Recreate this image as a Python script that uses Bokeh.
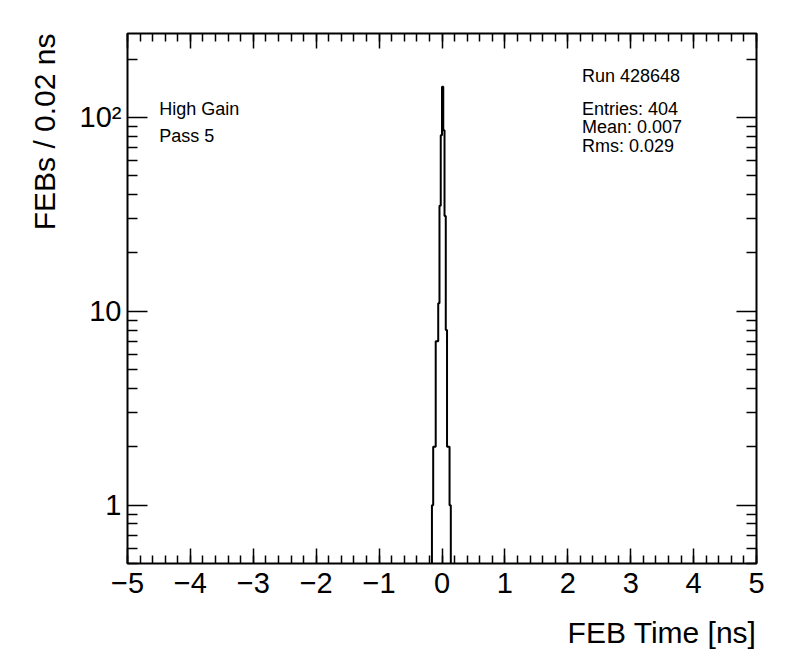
import numpy as np
from bokeh.plotting import figure
from bokeh.models import (Range1d, LinearAxis, LogAxis, FixedTicker, Label,
                          Title, CustomLabelingPolicy)
from bokeh.embed import file_html
from bokeh.resources import INLINE

# ---- data ----
bin_width = 0.02
bin_low = [-0.16, -0.14, -0.12, -0.10, -0.08, -0.06, -0.04, -0.02,
           0.00, 0.02, 0.04, 0.06, 0.08, 0.10, 0.12]
counts = [1, 2, 2, 7, 7, 11, 35, 81, 144, 86, 31, 8, 2, 2, 1]

x_ticks = [-5, -4, -3, -2, -1, 0, 1, 2, 3, 4, 5]
x_tick_labels = ["\u22125", "\u22124", "\u22123", "\u22122", "\u22121",
                 "0", "1", "2", "3", "4", "5"]
y_ticks = [1, 10, 100]
y_tick_labels = ["1", "10", "10\u00b2"]
y_minor = [0.5, 0.6, 0.7, 0.8, 0.9, 2, 3, 4, 5, 6, 7, 8, 9,
           20, 30, 40, 50, 60, 70, 80, 90, 200]
x_minor = [round(-5 + 0.2 * i, 1) for i in range(51)]

x_title = "FEB Time [ns]"
y_title = "FEBs / 0.02 ns"
run_text = "Run 428648"
stats_text = ["Entries: 404", "Mean: 0.007", "Rms: 0.029"]
info_text = ["High Gain", "Pass 5"]

FONT = "Liberation Sans"

p = figure(width=796, height=672, output_backend="svg", toolbar_location=None,
           x_range=Range1d(-5, 5), y_range=Range1d(0.5, 271),
           y_axis_type="log",
           min_border_left=127, min_border_right=40,
           min_border_top=33, min_border_bottom=109)
p.background_fill_color = "white"
p.border_fill_color = "white"
p.outline_line_color = "black"
p.outline_line_width = 2
p.grid.visible = False

# step outline of the histogram
edges = list(bin_low) + [bin_low[-1] + bin_width]
floor = 0.3
xs, ys = [edges[0]], [floor]
for i, c in enumerate(counts):
    xs += [edges[i], edges[i + 1]]
    ys += [c, c]
xs.append(edges[-1]); ys.append(floor)
p.line(xs, ys, line_color="black", line_width=2)

xticker = FixedTicker(ticks=x_ticks, minor_ticks=x_minor)
yticker = FixedTicker(ticks=y_ticks, minor_ticks=y_minor)
no_labels = CustomLabelingPolicy(code="return []")


def style_common(ax, major, minor):
    ax.axis_line_color = None
    ax.major_tick_in = major
    ax.major_tick_out = 0
    ax.minor_tick_in = minor
    ax.minor_tick_out = 0
    ax.major_tick_line_width = 1.5
    ax.minor_tick_line_width = 1.5
    ax.major_label_text_color = "black"
    ax.major_label_text_font = FONT


def style_x(ax, labels=True):
    ax.ticker = xticker
    style_common(ax, 15, 8)
    if labels:
        ax.major_label_overrides = dict(zip(x_ticks, x_tick_labels))
        ax.major_label_text_font_size = "29px"
        ax.major_label_standoff = 9
    else:
        ax.major_label_text_font_size = "2px"
        ax.major_label_standoff = 0
        ax.major_label_policy = no_labels


def style_y(ax, labels=True):
    ax.ticker = yticker
    style_common(ax, 20, 10)
    if labels:
        ax.major_label_overrides = dict(zip(y_ticks, y_tick_labels))
        ax.major_label_text_font_size = "29px"
        ax.major_label_standoff = 6
    else:
        ax.major_label_text_font_size = "2px"
        ax.major_label_standoff = 0
        ax.major_label_policy = no_labels


style_x(p.xaxis[0])
style_y(p.yaxis[0])
top_ax = LinearAxis()
style_x(top_ax, labels=False)
p.add_layout(top_ax, "above")
right_ax = LogAxis()
style_y(right_ax, labels=False)
p.add_layout(right_ax, "right")

# axis titles (ROOT style: aligned to the end of the axis)
p.add_layout(Title(text=x_title, align="right", text_font=FONT,
                   text_font_size="30px", text_font_style="normal",
                   text_color="black", standoff=37), "below")
p.add_layout(Title(text=y_title, align="right", text_font=FONT,
                   text_font_size="30px", text_font_style="normal",
                   text_color="black", standoff=31), "left")

# annotations
p.add_layout(Label(x=2.225, y=164.5, text=run_text, text_font=FONT,
                   text_font_size="18px", text_baseline="alphabetic",
                   text_color="black"))
for t, yy in zip(stats_text, [110, 89.1, 71.1]):
    p.add_layout(Label(x=2.225, y=yy, text=t, text_font=FONT,
                       text_font_size="18px", text_baseline="alphabetic",
                       text_color="black"))
for t, yy in zip(info_text, [110, 80.1]):
    p.add_layout(Label(x=-4.495, y=yy, text=t, text_font=FONT,
                       text_font_size="18px", text_baseline="alphabetic",
                       text_color="black"))

open("out.html", "w").write(file_html(p, INLINE))
